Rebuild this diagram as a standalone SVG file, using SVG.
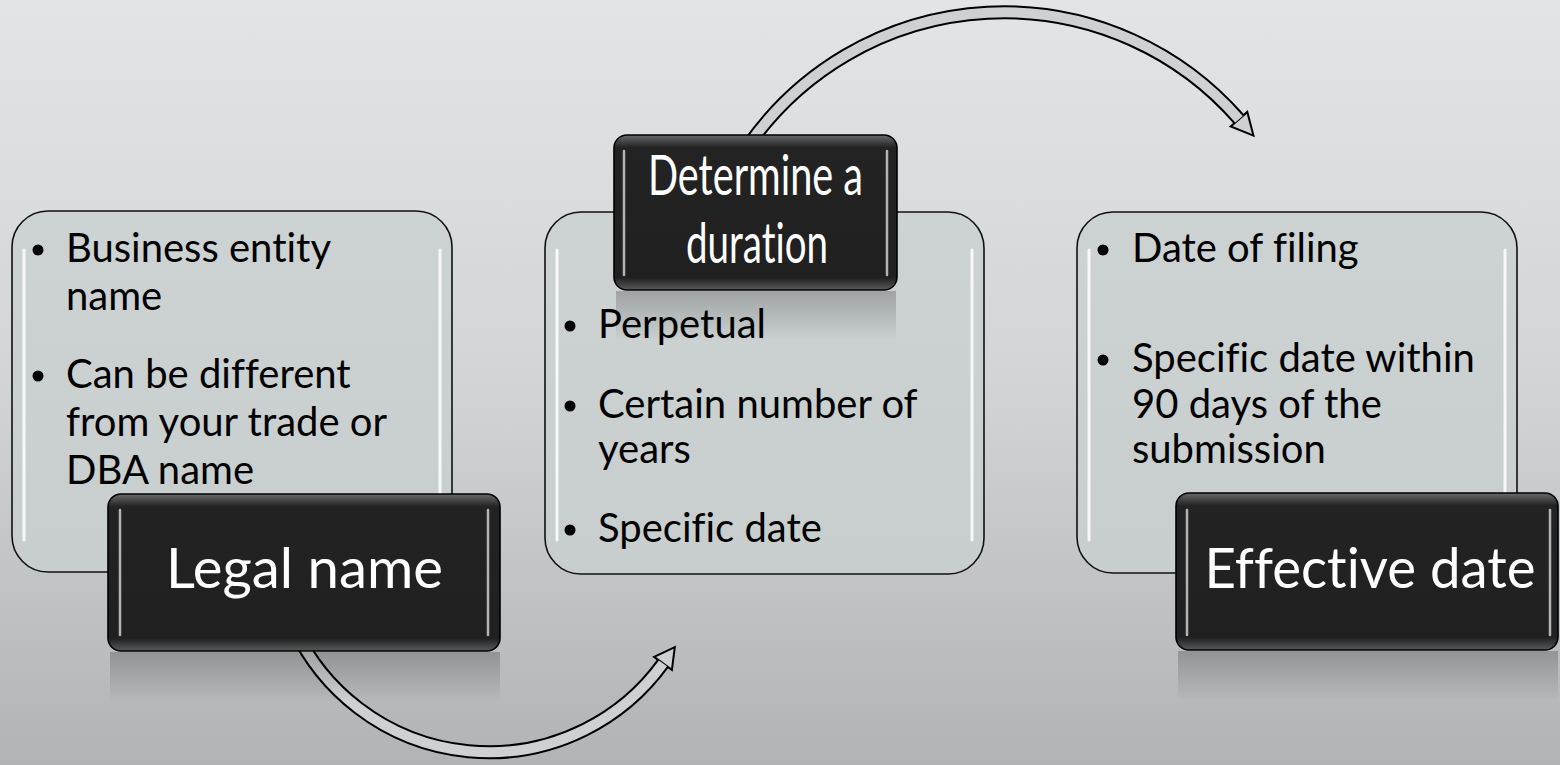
<svg xmlns="http://www.w3.org/2000/svg" width="1560" height="765" viewBox="0 0 1560 765">
  <defs>
    <linearGradient id="bg" x1="0" y1="0" x2="0" y2="1">
      <stop offset="0" stop-color="#e3e4e6"/>
      <stop offset="0.5" stop-color="#d2d4d6"/>
      <stop offset="1" stop-color="#b1b3b5"/>
    </linearGradient>
    <linearGradient id="lightFill" x1="0" y1="0" x2="0" y2="1">
      <stop offset="0" stop-color="#cdd2d2"/>
      <stop offset="1" stop-color="#c8cdcd"/>
    </linearGradient>
    <linearGradient id="darkFill" x1="0" y1="0" x2="0" y2="1">
      <stop offset="0" stop-color="#6a6a6a"/>
      <stop offset="0.08" stop-color="#232323"/>
      <stop offset="0.92" stop-color="#202020"/>
      <stop offset="1" stop-color="#5a5a5a"/>
    </linearGradient>
    <linearGradient id="refl" x1="0" y1="0" x2="0" y2="1">
      <stop offset="0" stop-color="#000" stop-opacity="0.22"/>
      <stop offset="1" stop-color="#000" stop-opacity="0"/>
    </linearGradient>
    <style>
      .light { fill: url(#lightFill); stroke: #111; stroke-width: 1.6; }
      .dark { fill: url(#darkFill); stroke: #000; stroke-width: 1.6; }
      .hl { stroke: #ffffff; stroke-width: 3; stroke-linecap: round; opacity: 0.85; fill: none; }
      .hld { stroke: #d8d8d8; stroke-width: 2.5; stroke-linecap: round; opacity: 0.8; fill: none; }
      .body { font-family: Lato, "Open Sans", sans-serif; font-size: 40px; fill: #000; font-variant-ligatures: none; }
      .title { font-family: Lato, "Open Sans", sans-serif; font-size: 57px; fill: #fff; text-anchor: middle; font-variant-ligatures: none; }
      .shaftOut { fill: none; stroke: #000; stroke-width: 14; }
      .shaftIn { fill: none; stroke: #cfd0d1; stroke-width: 10; }
      .head { fill: #cfd0d1; stroke: #000; stroke-width: 2; stroke-linejoin: miter; }
    </style>
  </defs>

  <rect x="0" y="0" width="1560" height="765" fill="url(#bg)"/>

  <g id="legal-details">
    <rect class="light" x="12" y="211" width="440" height="361" rx="36"/>
    <line class="hl" x1="24" y1="250" x2="24" y2="540"/>
    <line class="hl" x1="440" y1="250" x2="440" y2="540"/>
    <circle cx="38" cy="250" r="5.5"/>
    <text class="body" x="66" y="262">Business entity</text>
    <text class="body" x="66" y="310">name</text>
    <circle cx="38" cy="376" r="5.5"/>
    <text class="body" x="66" y="388">Can be different</text>
    <text class="body" x="66" y="436">from your trade or</text>
    <text class="body" x="66" y="484">DBA name</text>
  </g>

  <g id="duration-details">
    <rect class="light" x="545" y="212" width="439" height="362" rx="36"/>
    <line class="hl" x1="557" y1="250" x2="557" y2="540"/>
    <line class="hl" x1="972" y1="250" x2="972" y2="540"/>
    <circle cx="570" cy="326" r="5.5"/>
    <text class="body" x="598" y="338">Perpetual</text>
    <circle cx="570" cy="406" r="5.5"/>
    <text class="body" x="598" y="418">Certain number of</text>
    <text class="body" x="598" y="463">years</text>
    <circle cx="570" cy="530" r="5.5"/>
    <text class="body" x="598" y="542">Specific date</text>
  </g>

  <g id="effective-details">
    <rect class="light" x="1077" y="212" width="440" height="361" rx="36"/>
    <line class="hl" x1="1089" y1="250" x2="1089" y2="540"/>
    <line class="hl" x1="1505" y1="250" x2="1505" y2="540"/>
    <circle cx="1103" cy="250" r="5.5"/>
    <text class="body" x="1132" y="262">Date of filing</text>
    <circle cx="1103" cy="360" r="5.5"/>
    <text class="body" x="1132" y="372">Specific date within</text>
    <text class="body" x="1132" y="418">90 days of the</text>
    <text class="body" x="1132" y="463">submission</text>
  </g>

  <g id="connectors">
    <path class="shaftOut" d="M 294 628 A 215 215 0 0 0 663 663.4"/>
    <polygon class="head" points="674.8,647.2 671.9,669.9 654.1,656.9"/>
    <path class="shaftIn" d="M 294 628 A 215 215 0 0 0 663 663.4"/>
    <path class="shaftOut" d="M 748.5 145 A 312 312 0 0 1 1239 119.2"/>
    <polygon class="head" points="1253.5,135.7 1247.3,111.9 1230.7,126.5"/>
    <path class="shaftIn" d="M 748.5 145 A 312 312 0 0 1 1239 119.2"/>
  </g>

  <g id="legal-name">
    <rect x="110" y="652" width="390" height="50" fill="url(#refl)"/>
    <rect class="dark" x="108" y="494" width="392" height="157" rx="13"/>
    <line class="hld" x1="120" y1="510" x2="120" y2="635"/>
    <line class="hld" x1="488" y1="510" x2="488" y2="635"/>
    <text class="title" x="304.5" y="588" textLength="277" lengthAdjust="spacingAndGlyphs">Legal name</text>
  </g>

  <g id="determine-duration">
    <rect x="616" y="291" width="280" height="50" fill="url(#refl)"/>
    <rect class="dark" x="614" y="135" width="283" height="155" rx="13"/>
    <line class="hld" x1="624" y1="151" x2="624" y2="275"/>
    <line class="hld" x1="887" y1="151" x2="887" y2="275"/>
    <text class="title" x="755.5" y="195" textLength="215" lengthAdjust="spacingAndGlyphs">Determine a</text>
    <text class="title" x="757" y="263" textLength="142" lengthAdjust="spacingAndGlyphs">duration</text>
  </g>

  <g id="effective-date">
    <rect x="1178" y="651" width="380" height="50" fill="url(#refl)"/>
    <rect class="dark" x="1176" y="493" width="382" height="157" rx="13"/>
    <line class="hld" x1="1187" y1="510" x2="1187" y2="635"/>
    <line class="hld" x1="1550" y1="510" x2="1550" y2="635"/>
    <text class="title" x="1370" y="588" textLength="331" lengthAdjust="spacingAndGlyphs">Effective date</text>
  </g>
</svg>
